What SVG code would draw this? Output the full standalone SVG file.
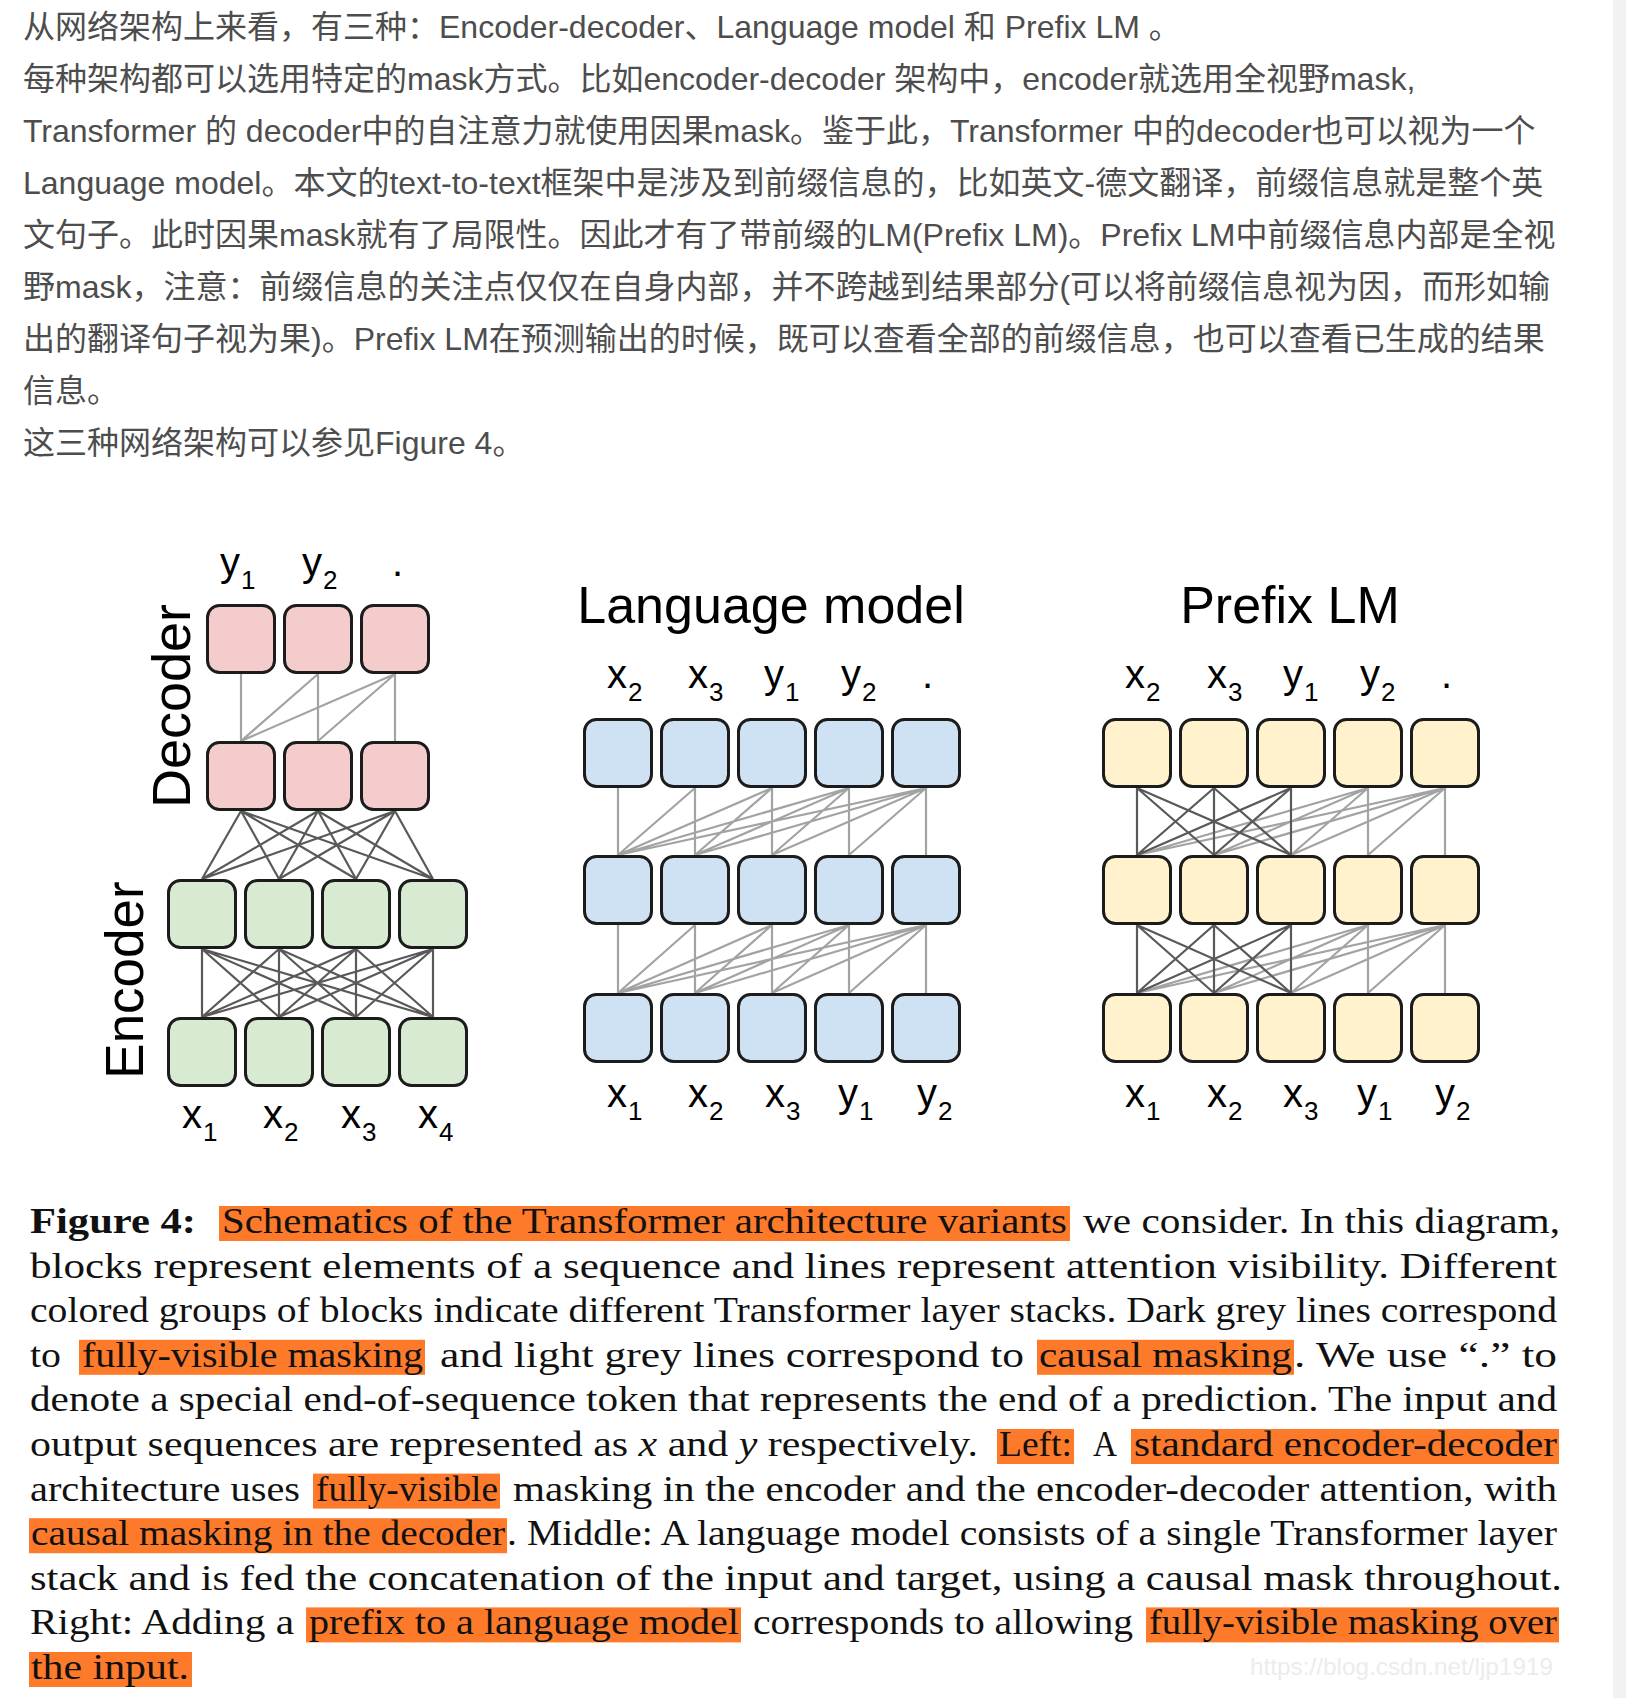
<svg xmlns="http://www.w3.org/2000/svg" width="1626" height="1698" viewBox="0 0 1626 1698">
<style>
.para{font-family:"Liberation Sans","Noto Sans CJK SC",sans-serif;font-size:32px;fill:#4d4d4d}
.box{stroke:#1c1c1c;stroke-width:3}
.dec{fill:#f4cccc}.enc{fill:#d9ead3}.lm{fill:#cfe2f3}.pre{fill:#fff2cc}
.dk{stroke:#595959;stroke-width:2.2;fill:none}
.lt{stroke:#a3a3a3;stroke-width:2.2;fill:none}
.lbl{font-family:"Liberation Sans",Arial,sans-serif;font-size:40px;fill:#000}
.sub{font-size:26px}
.title{font-family:"Liberation Sans",Arial,sans-serif;font-size:52px;fill:#000;text-anchor:middle}
.side{font-family:"Liberation Sans",Arial,sans-serif;fill:#000;text-anchor:middle}
.cap{font-family:"Liberation Serif","Times New Roman",serif;font-size:36px;fill:#111}
.hl{fill:#fd7a2a}
.wm{font-family:"Liberation Sans",Arial,sans-serif;font-size:24px;fill:#ececec}
</style>
<rect x="0" y="0" width="1626" height="1698" fill="#ffffff"/>
<rect x="1613" y="0" width="13" height="1698" fill="#f2f2f2"/>

<g id="paragraph">
<text class="para" x="23" y="38">从网络架构上来看，有三种：Encoder-decoder、Language model 和 Prefix LM 。</text>
<text class="para" x="23" y="90">每种架构都可以选用特定的mask方式。比如encoder-decoder 架构中，encoder就选用全视野mask,</text>
<text class="para" x="23" y="142">Transformer 的 decoder中的自注意力就使用因果mask。鉴于此，Transformer 中的decoder也可以视为一个</text>
<text class="para" x="23" y="194">Language model。本文的text-to-text框架中是涉及到前缀信息的，比如英文-德文翻译，前缀信息就是整个英</text>
<text class="para" x="23" y="246">文句子。此时因果mask就有了局限性。因此才有了带前缀的LM(Prefix LM)。Prefix LM中前缀信息内部是全视</text>
<text class="para" x="23" y="298">野mask，注意：前缀信息的关注点仅仅在自身内部，并不跨越到结果部分(可以将前缀信息视为因，而形如输</text>
<text class="para" x="23" y="350">出的翻译句子视为果)。Prefix LM在预测输出的时候，既可以查看全部的前缀信息，也可以查看已生成的结果</text>
<text class="para" x="23" y="402">信息。</text>
<text class="para" x="23" y="454">这三种网络架构可以参见Figure 4。</text>
</g>

<g id="connectors">
<path class="lt" d="M241 674L241 741M318 674L241 741M318 674L318 741M395 674L241 741M395 674L318 741M395 674L395 741"/>
<path class="dk" d="M241 811L202 879M241 811L279 879M241 811L356 879M241 811L433 879M318 811L202 879M318 811L279 879M318 811L356 879M318 811L433 879M395 811L202 879M395 811L279 879M395 811L356 879M395 811L433 879"/>
<path class="dk" d="M202 949L202 1017M202 949L279 1017M202 949L356 1017M202 949L433 1017M279 949L202 1017M279 949L279 1017M279 949L356 1017M279 949L433 1017M356 949L202 1017M356 949L279 1017M356 949L356 1017M356 949L433 1017M433 949L202 1017M433 949L279 1017M433 949L356 1017M433 949L433 1017"/>
<path class="lt" d="M618 788L618 855M695 788L618 855M695 788L695 855M772 788L618 855M772 788L695 855M772 788L772 855M849 788L618 855M849 788L695 855M849 788L772 855M849 788L849 855M926 788L618 855M926 788L695 855M926 788L772 855M926 788L849 855M926 788L926 855"/>
<path class="lt" d="M618 925L618 993M695 925L618 993M695 925L695 993M772 925L618 993M772 925L695 993M772 925L772 993M849 925L618 993M849 925L695 993M849 925L772 993M849 925L849 993M926 925L618 993M926 925L695 993M926 925L772 993M926 925L849 993M926 925L926 993"/>
<path class="lt" d="M1368 788L1137 855M1368 788L1214 855M1368 788L1291 855M1368 788L1368 855M1445 788L1137 855M1445 788L1214 855M1445 788L1291 855M1445 788L1368 855M1445 788L1445 855"/>
<path class="dk" d="M1137 788L1137 855M1137 788L1214 855M1137 788L1291 855M1214 788L1137 855M1214 788L1214 855M1214 788L1291 855M1291 788L1137 855M1291 788L1214 855M1291 788L1291 855"/>
<path class="lt" d="M1368 925L1137 993M1368 925L1214 993M1368 925L1291 993M1368 925L1368 993M1445 925L1137 993M1445 925L1214 993M1445 925L1291 993M1445 925L1368 993M1445 925L1445 993"/>
<path class="dk" d="M1137 925L1137 993M1137 925L1214 993M1137 925L1291 993M1214 925L1137 993M1214 925L1214 993M1214 925L1291 993M1291 925L1137 993M1291 925L1214 993M1291 925L1291 993"/>
</g>

<g id="encoder-decoder">
<g id="dec-top-1"><rect class="box dec" x="207.5" y="605.5" width="67" height="67" rx="12"/></g>
<g id="dec-top-2"><rect class="box dec" x="284.5" y="605.5" width="67" height="67" rx="12"/></g>
<g id="dec-top-3"><rect class="box dec" x="361.5" y="605.5" width="67" height="67" rx="12"/></g>
<g id="dec-bot-1"><rect class="box dec" x="207.5" y="742.5" width="67" height="67" rx="12"/></g>
<g id="dec-bot-2"><rect class="box dec" x="284.5" y="742.5" width="67" height="67" rx="12"/></g>
<g id="dec-bot-3"><rect class="box dec" x="361.5" y="742.5" width="67" height="67" rx="12"/></g>
<g id="enc-top-1"><rect class="box enc" x="168.5" y="880.5" width="67" height="67" rx="12"/></g>
<g id="enc-top-2"><rect class="box enc" x="245.5" y="880.5" width="67" height="67" rx="12"/></g>
<g id="enc-top-3"><rect class="box enc" x="322.5" y="880.5" width="67" height="67" rx="12"/></g>
<g id="enc-top-4"><rect class="box enc" x="399.5" y="880.5" width="67" height="67" rx="12"/></g>
<g id="enc-bot-1"><rect class="box enc" x="168.5" y="1018.5" width="67" height="67" rx="12"/></g>
<g id="enc-bot-2"><rect class="box enc" x="245.5" y="1018.5" width="67" height="67" rx="12"/></g>
<g id="enc-bot-3"><rect class="box enc" x="322.5" y="1018.5" width="67" height="67" rx="12"/></g>
<g id="enc-bot-4"><rect class="box enc" x="399.5" y="1018.5" width="67" height="67" rx="12"/></g>
<text class="side" font-size="54" transform="translate(190 706) rotate(-90)">Decoder</text>
<text class="side" font-size="53" transform="translate(143 980) rotate(-90)">Encoder</text>
<text class="lbl" x="220" y="576">y<tspan class="sub" dx="1" dy="13">1</tspan></text>
<text class="lbl" x="302" y="576">y<tspan class="sub" dx="1" dy="13">2</tspan></text>
<text class="lbl" x="392" y="576">.</text>
<text class="lbl" x="182" y="1128">x<tspan class="sub" dx="1" dy="13">1</tspan></text>
<text class="lbl" x="263" y="1128">x<tspan class="sub" dx="1" dy="13">2</tspan></text>
<text class="lbl" x="341" y="1128">x<tspan class="sub" dx="1" dy="13">3</tspan></text>
<text class="lbl" x="418" y="1128">x<tspan class="sub" dx="1" dy="13">4</tspan></text>
</g>

<g id="language-model">
<text class="title" x="771" y="623">Language model</text>
<g id="lm-r1-1"><rect class="box lm" x="584.5" y="719.5" width="67" height="67" rx="12"/></g>
<g id="lm-r1-2"><rect class="box lm" x="661.5" y="719.5" width="67" height="67" rx="12"/></g>
<g id="lm-r1-3"><rect class="box lm" x="738.5" y="719.5" width="67" height="67" rx="12"/></g>
<g id="lm-r1-4"><rect class="box lm" x="815.5" y="719.5" width="67" height="67" rx="12"/></g>
<g id="lm-r1-5"><rect class="box lm" x="892.5" y="719.5" width="67" height="67" rx="12"/></g>
<g id="lm-r2-1"><rect class="box lm" x="584.5" y="856.5" width="67" height="67" rx="12"/></g>
<g id="lm-r2-2"><rect class="box lm" x="661.5" y="856.5" width="67" height="67" rx="12"/></g>
<g id="lm-r2-3"><rect class="box lm" x="738.5" y="856.5" width="67" height="67" rx="12"/></g>
<g id="lm-r2-4"><rect class="box lm" x="815.5" y="856.5" width="67" height="67" rx="12"/></g>
<g id="lm-r2-5"><rect class="box lm" x="892.5" y="856.5" width="67" height="67" rx="12"/></g>
<g id="lm-r3-1"><rect class="box lm" x="584.5" y="994.5" width="67" height="67" rx="12"/></g>
<g id="lm-r3-2"><rect class="box lm" x="661.5" y="994.5" width="67" height="67" rx="12"/></g>
<g id="lm-r3-3"><rect class="box lm" x="738.5" y="994.5" width="67" height="67" rx="12"/></g>
<g id="lm-r3-4"><rect class="box lm" x="815.5" y="994.5" width="67" height="67" rx="12"/></g>
<g id="lm-r3-5"><rect class="box lm" x="892.5" y="994.5" width="67" height="67" rx="12"/></g>
<text class="lbl" x="607" y="688">x<tspan class="sub" dx="1" dy="13">2</tspan></text>
<text class="lbl" x="688" y="688">x<tspan class="sub" dx="1" dy="13">3</tspan></text>
<text class="lbl" x="764" y="688">y<tspan class="sub" dx="1" dy="13">1</tspan></text>
<text class="lbl" x="841" y="688">y<tspan class="sub" dx="1" dy="13">2</tspan></text>
<text class="lbl" x="922" y="688">.</text>
<text class="lbl" x="607" y="1107">x<tspan class="sub" dx="1" dy="13">1</tspan></text>
<text class="lbl" x="688" y="1107">x<tspan class="sub" dx="1" dy="13">2</tspan></text>
<text class="lbl" x="765" y="1107">x<tspan class="sub" dx="1" dy="13">3</tspan></text>
<text class="lbl" x="838" y="1107">y<tspan class="sub" dx="1" dy="13">1</tspan></text>
<text class="lbl" x="917" y="1107">y<tspan class="sub" dx="1" dy="13">2</tspan></text>
</g>

<g id="prefix-lm">
<text class="title" x="1290" y="623">Prefix LM</text>
<g id="pre-r1-1"><rect class="box pre" x="1103.5" y="719.5" width="67" height="67" rx="12"/></g>
<g id="pre-r1-2"><rect class="box pre" x="1180.5" y="719.5" width="67" height="67" rx="12"/></g>
<g id="pre-r1-3"><rect class="box pre" x="1257.5" y="719.5" width="67" height="67" rx="12"/></g>
<g id="pre-r1-4"><rect class="box pre" x="1334.5" y="719.5" width="67" height="67" rx="12"/></g>
<g id="pre-r1-5"><rect class="box pre" x="1411.5" y="719.5" width="67" height="67" rx="12"/></g>
<g id="pre-r2-1"><rect class="box pre" x="1103.5" y="856.5" width="67" height="67" rx="12"/></g>
<g id="pre-r2-2"><rect class="box pre" x="1180.5" y="856.5" width="67" height="67" rx="12"/></g>
<g id="pre-r2-3"><rect class="box pre" x="1257.5" y="856.5" width="67" height="67" rx="12"/></g>
<g id="pre-r2-4"><rect class="box pre" x="1334.5" y="856.5" width="67" height="67" rx="12"/></g>
<g id="pre-r2-5"><rect class="box pre" x="1411.5" y="856.5" width="67" height="67" rx="12"/></g>
<g id="pre-r3-1"><rect class="box pre" x="1103.5" y="994.5" width="67" height="67" rx="12"/></g>
<g id="pre-r3-2"><rect class="box pre" x="1180.5" y="994.5" width="67" height="67" rx="12"/></g>
<g id="pre-r3-3"><rect class="box pre" x="1257.5" y="994.5" width="67" height="67" rx="12"/></g>
<g id="pre-r3-4"><rect class="box pre" x="1334.5" y="994.5" width="67" height="67" rx="12"/></g>
<g id="pre-r3-5"><rect class="box pre" x="1411.5" y="994.5" width="67" height="67" rx="12"/></g>
<text class="lbl" x="1125" y="688">x<tspan class="sub" dx="1" dy="13">2</tspan></text>
<text class="lbl" x="1207" y="688">x<tspan class="sub" dx="1" dy="13">3</tspan></text>
<text class="lbl" x="1283" y="688">y<tspan class="sub" dx="1" dy="13">1</tspan></text>
<text class="lbl" x="1360" y="688">y<tspan class="sub" dx="1" dy="13">2</tspan></text>
<text class="lbl" x="1441" y="688">.</text>
<text class="lbl" x="1125" y="1107">x<tspan class="sub" dx="1" dy="13">1</tspan></text>
<text class="lbl" x="1207" y="1107">x<tspan class="sub" dx="1" dy="13">2</tspan></text>
<text class="lbl" x="1283" y="1107">x<tspan class="sub" dx="1" dy="13">3</tspan></text>
<text class="lbl" x="1357" y="1107">y<tspan class="sub" dx="1" dy="13">1</tspan></text>
<text class="lbl" x="1435" y="1107">y<tspan class="sub" dx="1" dy="13">2</tspan></text>
</g>

<g id="caption">
<rect class="hl" x="219" y="1206" width="851" height="35"/>
<rect class="hl" x="79" y="1339.8" width="346" height="35"/>
<rect class="hl" x="1037" y="1339.8" width="257" height="35"/>
<rect class="hl" x="997" y="1429" width="77" height="35"/>
<rect class="hl" x="1131" y="1429" width="428" height="35"/>
<rect class="hl" x="313" y="1473.6" width="187" height="35"/>
<rect class="hl" x="29" y="1518.2" width="478" height="35"/>
<rect class="hl" x="306" y="1607.4" width="435" height="35"/>
<rect class="hl" x="1146" y="1607.4" width="413" height="35"/>
<rect class="hl" x="29" y="1652" width="163" height="35"/>

<text class="cap" x="30" y="1233" font-weight="bold" textLength="166" lengthAdjust="spacingAndGlyphs">Figure 4:</text>
<text class="cap" x="222" y="1233" textLength="845" lengthAdjust="spacingAndGlyphs">Schematics of the Transformer architecture variants</text>
<text class="cap" x="1083" y="1233" textLength="477" lengthAdjust="spacingAndGlyphs">we consider. In this diagram,</text>

<text class="cap" x="30" y="1277.6" textLength="1527" lengthAdjust="spacingAndGlyphs">blocks represent elements of a sequence and lines represent attention visibility.  Different</text>
<text class="cap" x="30" y="1322.2" textLength="1527" lengthAdjust="spacingAndGlyphs">colored groups of blocks indicate different Transformer layer stacks. Dark grey lines correspond</text>

<text class="cap" x="30" y="1366.8" textLength="31" lengthAdjust="spacingAndGlyphs">to</text>
<text class="cap" x="82" y="1366.8" textLength="341" lengthAdjust="spacingAndGlyphs">fully-visible masking</text>
<text class="cap" x="440" y="1366.8" textLength="584" lengthAdjust="spacingAndGlyphs">and light grey lines correspond to</text>
<text class="cap" x="1039" y="1366.8" textLength="253" lengthAdjust="spacingAndGlyphs">causal masking</text>
<text class="cap" x="1294" y="1366.8" textLength="263" lengthAdjust="spacingAndGlyphs">.  We use “.” to</text>

<text class="cap" x="30" y="1411.4" textLength="1527" lengthAdjust="spacingAndGlyphs">denote a special end-of-sequence token that represents the end of a prediction. The input and</text>

<text class="cap" x="30" y="1456" textLength="948" lengthAdjust="spacingAndGlyphs">output sequences are represented as <tspan font-style="italic">x</tspan> and <tspan font-style="italic">y</tspan> respectively.</text>
<text class="cap" x="999" y="1456" textLength="73" lengthAdjust="spacingAndGlyphs">Left:</text>
<text class="cap" x="1093" y="1456" textLength="24" lengthAdjust="spacingAndGlyphs">A</text>
<text class="cap" x="1134" y="1456" textLength="423" lengthAdjust="spacingAndGlyphs">standard encoder-decoder</text>

<text class="cap" x="30" y="1500.6" textLength="270" lengthAdjust="spacingAndGlyphs">architecture uses</text>
<text class="cap" x="316" y="1500.6" textLength="182" lengthAdjust="spacingAndGlyphs">fully-visible</text>
<text class="cap" x="513" y="1500.6" textLength="1044" lengthAdjust="spacingAndGlyphs">masking in the encoder and the encoder-decoder attention, with</text>

<text class="cap" x="31" y="1545.2" textLength="474" lengthAdjust="spacingAndGlyphs">causal masking in the decoder</text>
<text class="cap" x="507" y="1545.2" textLength="1050" lengthAdjust="spacingAndGlyphs">. Middle: A language model consists of a single Transformer layer</text>

<text class="cap" x="30" y="1589.8" textLength="1532" lengthAdjust="spacingAndGlyphs">stack and is fed the concatenation of the input and target, using a causal mask throughout.</text>

<text class="cap" x="30" y="1634.4" textLength="264" lengthAdjust="spacingAndGlyphs">Right: Adding a</text>
<text class="cap" x="309" y="1634.4" textLength="430" lengthAdjust="spacingAndGlyphs">prefix to a language model</text>
<text class="cap" x="753" y="1634.4" textLength="380" lengthAdjust="spacingAndGlyphs">corresponds to allowing</text>
<text class="cap" x="1149" y="1634.4" textLength="408" lengthAdjust="spacingAndGlyphs">fully-visible masking over</text>

<text class="cap" x="31" y="1679" textLength="158" lengthAdjust="spacingAndGlyphs">the input.</text>
</g>

<text class="wm" x="1250" y="1675" textLength="303" lengthAdjust="spacingAndGlyphs">https://blog.csdn.net/ljp1919</text>
</svg>
